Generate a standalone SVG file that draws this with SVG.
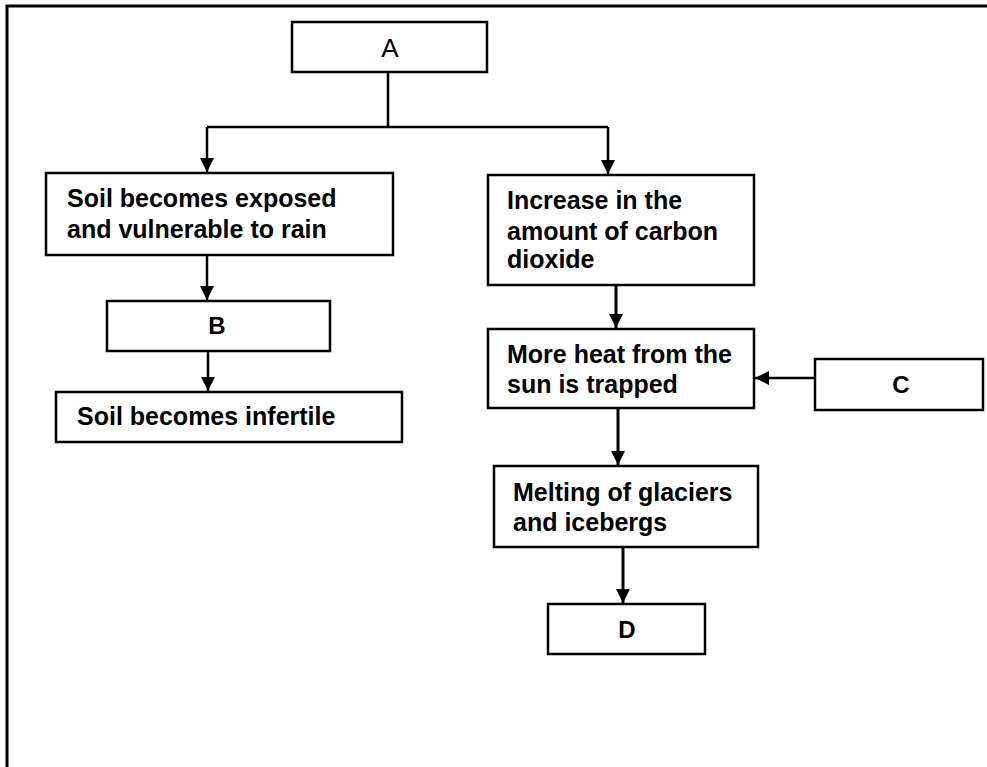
<svg xmlns="http://www.w3.org/2000/svg" width="987" height="767" viewBox="0 0 987 767">
  <style>
    .box { fill: #ffffff; stroke: #000000; stroke-width: 2.5; }
    .t { font-family: "Liberation Sans", Arial, sans-serif; font-size: 25px; font-weight: bold; fill: #000000; }
    .lbl { font-family: "Liberation Sans", Arial, sans-serif; font-size: 24px; fill: #000000; text-anchor: middle; }
    .conn { fill: none; stroke: #000000; stroke-width: 2.5; }
    .frame { fill: none; stroke: #000000; stroke-width: 3; }
  </style>
  <defs>
    <marker id="arr" markerUnits="userSpaceOnUse" markerWidth="14" markerHeight="14" viewBox="0 0 14 14" refX="14" refY="7" orient="auto">
      <path d="M0,0 L14,7 L0,14 Z" fill="#000000"/>
    </marker>
  </defs>
  <rect width="987" height="767" fill="#ffffff"/>
  <g id="frame">
    <path class="frame" d="M7,767 V6 H987"/>
  </g>
  <g id="connectors">
    <path class="conn" d="M388,72 V127"/>
    <path class="conn" d="M207,127 H608"/>
    <path class="conn" d="M207,127 V172" marker-end="url(#arr)"/>
    <path class="conn" d="M608,127 V174" marker-end="url(#arr)"/>
    <path class="conn" d="M207,255 V300" marker-end="url(#arr)"/>
    <path class="conn" d="M208,351 V391" marker-end="url(#arr)"/>
    <path class="conn" style="stroke-width:3" d="M616,285 V328" marker-end="url(#arr)"/>
    <path class="conn" d="M815,378 H755" marker-end="url(#arr)"/>
    <path class="conn" style="stroke-width:3" d="M618,408 V465" marker-end="url(#arr)"/>
    <path class="conn" style="stroke-width:3" d="M623,547 V603" marker-end="url(#arr)"/>
  </g>
  <g id="nodeA">
    <rect class="box" x="292" y="22" width="195" height="50"/>
    <text class="lbl" x="390" y="57" style="font-size:26px">A</text>
  </g>
  <g id="soilExposed">
    <rect class="box" x="46" y="173" width="347" height="82"/>
    <text class="t" x="67" y="207">Soil becomes exposed</text>
    <text class="t" x="67" y="238">and vulnerable to rain</text>
  </g>
  <g id="nodeB">
    <rect class="box" x="107" y="301" width="223" height="50"/>
    <text class="lbl" x="217" y="334" style="font-weight:bold">B</text>
  </g>
  <g id="soilInfertile">
    <rect class="box" x="56" y="392" width="346" height="50"/>
    <text class="t" x="77" y="425">Soil becomes infertile</text>
  </g>
  <g id="increaseCO2">
    <rect class="box" x="488" y="175" width="266" height="110"/>
    <text class="t" x="507" y="209">Increase in the</text>
    <text class="t" x="507" y="240">amount of carbon</text>
    <text class="t" x="507" y="268">dioxide</text>
  </g>
  <g id="moreHeat">
    <rect class="box" x="488" y="329" width="266" height="79"/>
    <text class="t" x="507" y="363">More heat from the</text>
    <text class="t" x="507" y="393">sun is trapped</text>
  </g>
  <g id="nodeC">
    <rect class="box" x="815" y="359" width="168" height="51"/>
    <text class="lbl" x="901" y="393" style="font-weight:bold">C</text>
  </g>
  <g id="melting">
    <rect class="box" x="494" y="466" width="264" height="81"/>
    <text class="t" x="513" y="501">Melting of glaciers</text>
    <text class="t" x="513" y="531">and icebergs</text>
  </g>
  <g id="nodeD">
    <rect class="box" x="548" y="604" width="157" height="50"/>
    <text class="lbl" x="627" y="638" style="font-weight:bold">D</text>
  </g>
</svg>
